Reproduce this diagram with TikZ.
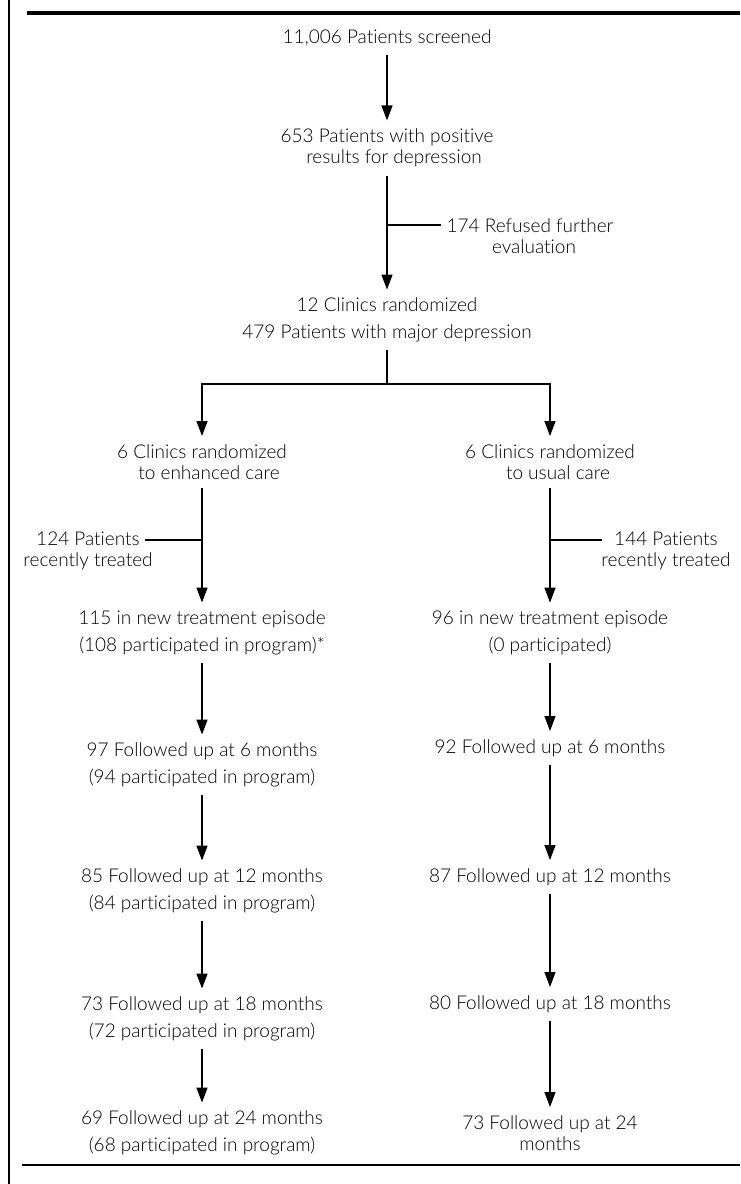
\documentclass[tikz,border=0pt]{standalone}
\usepackage{fontspec}
\setmainfont{Lato}[UprightFont={* Light},RawFeature={-liga;-clig;-dlig;-calt}]
\usetikzlibrary{arrows.meta}

\tikzset{
  txt/.style={font=\fontsize{9.5}{10.6}\selectfont,align=center,inner xsep=0pt,inner ysep=4pt,text=black},
  flow/.style={line width=0.7pt,-{Triangle[length=7.5pt,width=5.5pt]}},
  rule/.style={line width=0.7pt}
}

\begin{document}
\begin{tikzpicture}[x=0.5pt,y=-0.5pt]
\useasboundingbox (0,0) rectangle (740,1184);
\draw[line width=0.8pt] (9,0) -- (9,1184);
\draw[line width=2.2pt] (27,13) -- (740,13);
\draw[line width=1pt] (22,1165) -- (740,1165);

\node[txt] (scr) at (387,38) {11,006 Patients screened};
\node[txt] (pos) at (387,148) {653 Patients with positive\\\hspace*{7pt}results for depression};
\node[txt] (ref) at (530,236) {174 Refused further\\\hspace*{4pt}evaluation};
\node[txt] (rnd) at (387,320) {12 Clinics randomized\\[2.8pt]479 Patients with major depression};
\coordinate (cut) at (387,225);
\coordinate (cutend) at (441,225);
\coordinate (split) at (387,384);
\draw[flow] (scr) -- (pos);
\draw[flow] (pos) -- (rnd);
\draw[rule] (cut) -- (cutend);
\draw[rule] (rnd) -- (split);

\node[txt] (enh) at (202,462) {6 Clinics randomized\\\hspace*{7pt}to enhanced care};
\node[txt] (usu) at (550,462) {6 Clinics randomized\\\hspace*{8pt}to usual care};
\draw[flow] (split) -| (enh);
\draw[flow] (split) -| (usu);

\node[txt] (rec1) at (88,551) {124 Patients\\recently treated};
\node[txt] (rec2) at (666,551) {144 Patients\\recently treated};
\node[txt] (new1) at (202,633) {115 in new treatment episode\\[2.8pt](108 participated in program)*};
\node[txt] (new2) at (550,633) {96 in new treatment episode\\[2.8pt](0 participated)};
\coordinate (cut1) at (202,540);
\coordinate (cut1end) at (145,540);
\coordinate (cut2) at (550,540);
\coordinate (cut2end) at (602,540);
\draw[flow] (enh) -- (new1);
\draw[flow] (usu) -- (new2);
\draw[rule] (cut1) -- (cut1end);
\draw[rule] (cut2) -- (cut2end);

\node[txt] (fu6a) at (202,765) {97 Followed up at 6 months\\[2.8pt](94 participated in program)};
\node[txt] (fu12a) at (202,891) {85 Followed up at 12 months\\[2.8pt](84 participated in program)};
\node[txt] (fu18a) at (202,1019) {73 Followed up at 18 months\\[2.8pt](72 participated in program)};
\node[txt] (fu24a) at (202,1133) {69 Followed up at 24 months\\[2.8pt](68 participated in program)};
\draw[flow] (new1) -- (fu6a);
\draw[flow] (fu6a) -- (fu12a);
\draw[flow] (fu12a) -- (fu18a);
\draw[flow] (fu18a) -- (fu24a);

\node[txt] (fu6b) at (550,748) {92 Followed up at 6 months};
\node[txt] (fu12b) at (550,877) {87 Followed up at 12 months};
\node[txt] (fu18b) at (550,1004) {80 Followed up at 18 months};
\node[txt] (fu24b) at (550,1133) {73 Followed up at 24\\months};
\draw[flow] (new2) -- (fu6b);
\draw[flow] (fu6b) -- (fu12b);
\draw[flow] (fu12b) -- (fu18b);
\draw[flow] (fu18b) -- (fu24b);
\end{tikzpicture}
\end{document}
